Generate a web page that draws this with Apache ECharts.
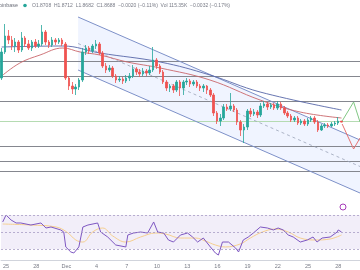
<!DOCTYPE html>
<html><head><meta charset="utf-8">
<script src="https://cdn.jsdelivr.net/npm/echarts@6/dist/echarts.min.js"></script>
<style>html,body{margin:0;padding:0;background:#fff}#c{width:360px;height:270px}</style>
</head><body><div id="c"></div>
<script>
// ---- data ----
const opens = [1.957,2.009,2.041,2.033,2.021,2.029,2.013,2.037,2.025,2.017,
2.029,2.021,2.025,2.049,2.029,2.023,2.033,2.029,2.033,2.025,
1.957,1.941,1.935,1.939,1.953,2.009,2.017,2.011,2.021,2.025,
2.007,1.981,1.973,1.977,1.961,1.953,1.955,1.951,1.957,1.961,
1.975,1.969,1.965,1.971,1.967,1.973,1.993,1.981,1.969,1.949,
1.937,1.941,1.933,1.949,1.937,1.949,1.951,1.945,1.949,1.941,
1.937,1.941,1.933,1.923,1.887,1.871,1.877,1.899,1.895,1.901,
1.893,1.869,1.853,1.859,1.891,1.885,1.889,1.883,1.901,1.905,
1.899,1.903,1.897,1.905,1.897,1.887,1.881,1.873,1.877,1.867,
1.871,1.865,1.873,1.877,1.869,1.853,1.861,1.863,1.861,1.865,
1.867,1.8708];
const closes = [2.009,2.041,2.033,2.021,2.029,2.013,2.037,2.025,2.017,2.029,
2.021,2.025,2.049,2.029,2.023,2.033,2.029,2.033,2.025,1.957,
1.941,1.935,1.939,1.953,2.009,2.017,2.011,2.021,2.025,2.007,
1.981,1.973,1.977,1.961,1.953,1.955,1.951,1.957,1.961,1.975,
1.969,1.965,1.971,1.967,1.973,1.993,1.981,1.969,1.949,1.937,
1.941,1.933,1.949,1.937,1.949,1.951,1.945,1.949,1.941,1.937,
1.941,1.933,1.923,1.887,1.871,1.877,1.899,1.895,1.901,1.893,
1.869,1.853,1.859,1.891,1.885,1.889,1.883,1.901,1.905,1.899,
1.903,1.897,1.905,1.897,1.887,1.881,1.873,1.877,1.867,1.871,
1.865,1.873,1.877,1.869,1.853,1.861,1.863,1.861,1.865,1.867,
1.8708,1.8688];
const highs = [2.017,2.065,2.053,2.041,2.037,2.033,2.049,2.041,2.033,2.033,
2.035,2.033,2.063,2.053,2.033,2.039,2.037,2.037,2.037,2.029,
1.961,1.949,1.945,1.957,2.017,2.023,2.021,2.025,2.033,2.029,
2.011,1.987,1.983,1.981,1.965,1.961,1.959,1.963,1.967,1.983,
1.979,1.975,1.977,1.975,1.981,2.019,1.997,1.985,1.973,1.953,
1.945,1.945,1.953,1.953,1.953,1.957,1.955,1.953,1.953,1.945,
1.945,1.943,1.937,1.927,1.891,1.885,1.905,1.905,1.927,1.905,
1.897,1.873,1.865,1.895,1.897,1.895,1.893,1.907,1.911,1.909,
1.907,1.907,1.911,1.909,1.901,1.891,1.885,1.881,1.881,1.875,
1.875,1.877,1.881,1.881,1.873,1.865,1.867,1.867,1.869,1.871,
1.879,1.8712];
const lows = [1.953,2.005,2.025,2.013,2.009,2.007,2.009,2.019,2.013,2.011,
2.017,2.017,2.021,2.023,2.017,2.019,2.023,2.025,2.021,1.953,
1.933,1.925,1.923,1.933,1.949,2.003,2.005,2.007,2.015,2.003,
1.977,1.967,1.969,1.957,1.947,1.949,1.945,1.947,1.951,1.957,
1.963,1.959,1.961,1.961,1.963,1.969,1.975,1.965,1.945,1.931,
1.929,1.927,1.929,1.921,1.923,1.943,1.939,1.941,1.937,1.931,
1.929,1.925,1.919,1.881,1.865,1.861,1.873,1.891,1.891,1.889,
1.863,1.841,1.827,1.853,1.879,1.881,1.877,1.879,1.897,1.893,
1.895,1.893,1.893,1.893,1.883,1.877,1.869,1.869,1.863,1.863,
1.861,1.861,1.869,1.865,1.849,1.851,1.857,1.857,1.859,1.861,
1.863,1.8682];

const tickLabels = ['25','28','Dec','4','7','10','13','16','19','22','25','28'];
const tickIndex = [1,10,19,28,37,46,55,64,73,82,91,100];

const levels = [1.987,1.957,1.911,1.825,1.795,1.769];
const lastPriceLevel = 1.869;

const maRed = [[0,1.961],[5.4,1.987],[11.4,2.003],[18.2,2.017],[23.3,2.009],[29.2,2.003],[37.3,1.989],[47.1,1.977],[61.9,1.953],[76.8,1.913],[88.7,1.889],[101,1.877]];
const maBlue = [[0,2.019],[18.2,2.021],[29.2,2.007],[47.1,1.989],[61.9,1.963],[76.8,1.929],[101,1.893]];

const channelX = [22.7,106.5];
const channelTop = [2.079,1.833];
const channelMid = [2.026,1.780];
const channelBottom = [1.973,1.727];

const projUp = [[101.2,1.871],[104.6,1.909],[106.5,1.869]];
const projDown = [[101.2,1.865],[104.6,1.815],[106.5,1.837]];

const rsi = [[0,61.8],[1,70],[2.5,64.1],[4,60.6],[5.4,60.6],[8.4,58.2],[11.4,60.6],[12.9,54.7],[14.4,55.9],[17.3,52.4],[18.2,50],[18.8,32.4],[20.3,26.5],[21.2,25.3],[22.7,32.4],[23.9,55.9],[25.4,58.2],[28.3,60.6],[29.2,50],[31.3,44.1],[33.7,34.7],[36.7,32.4],[37.3,46.5],[39,48.8],[41.1,50],[43.2,48.8],[45,61.8],[46.2,50],[48,48.8],[49.4,40.6],[50.9,38.2],[53,46.5],[55.1,48.8],[56.6,44.1],[58.1,38.2],[59.8,42.9],[61.9,32.4],[63.4,25.3],[64.3,22.9],[65.5,38.2],[67.3,38.2],[69.4,31.2],[70.3,26.5],[71.7,40.6],[73.2,44.1],[74.7,48.8],[76.8,55.9],[78.9,54.7],[80.7,52.4],[82.1,54.7],[83.6,52.4],[85.1,46.5],[86.6,44.1],[88.7,38.2],[90.8,40.6],[92.5,44.1],[93.7,38.2],[95.2,42.9],[97.6,44.1],[99.7,50],[100,52.4],[101,50]];
const rsiMa = [[0,59.4],[8.4,58.2],[15.9,55.9],[19.1,50],[21.8,40.6],[23.9,38.2],[26.8,50],[29.8,54.7],[32.8,45.3],[36.7,38.2],[41.1,44.1],[45.6,48.8],[48.6,47.6],[53,42.9],[57.5,42.9],[60.4,39.4],[63.4,34.7],[66.4,32.4],[70.8,35.9],[73.8,42.9],[77.4,50],[81.3,53.5],[85.1,50],[88.7,42.9],[93.1,40.6],[97.6,41.8],[101,46.5]];
const rsiLevels = [70,50,30];

const headerName = 'Coinbase';
const headerItems = ['O1.8708','H1.8712','L1.8682','C1.8688','\u22120.0020 (\u22120.11%)','Vol 115.35K','\u22120.0032 (\u22120.17%)'];

// ---- build ----
const NSLOTS = 107;
const categories = [];
const start = Date.UTC(2021,10,24,16);
for (let i = 0; i < NSLOTS; i++) {
  const d = new Date(start + i * 8 * 3600 * 1000);
  categories.push((d.getUTCMonth()+1) + '-' + d.getUTCDate() + ' ' + d.getUTCHours() + 'h');
}
const candles = opens.map((o, i) => [o, closes[i], lows[i], highs[i]]);

const FONT = '"Liberation Sans", Arial, sans-serif';
const graphic = [
  {type:'text', x:18, y:5.5, style:{text:headerName, fill:'#6a6d78', font:'5.4px ' + FONT, align:'right', verticalAlign:'middle'}},
  {type:'circle', shape:{cx:25, cy:5.5, r:1.8}, style:{fill:'#26a69a'}},
  {type:'text', x:32, y:5.5, style:{text:headerItems.join('  '), fill:'#787b86', font:'5px ' + FONT, align:'left', verticalAlign:'middle'}},
  {type:'circle', shape:{cx:343, cy:207, r:3}, style:{fill:'none', stroke:'#9c27b0', lineWidth:0.9}}
];

const chart = echarts.init(document.getElementById('c'), null, {renderer:'canvas'});
chart.setOption({
  animation:false,
  backgroundColor:'#ffffff',
  grid:[
    {left:0, right:0, top:0, height:200},
    {left:0, right:0, top:206.5, height:51}
  ],
  xAxis:[
    {type:'category', gridIndex:0, data:categories, boundaryGap:true, show:false},
    {type:'value', gridIndex:0, min:-0.5, max:NSLOTS-0.5, show:false},
    {type:'value', gridIndex:1, min:-0.5, max:NSLOTS-0.5, show:false},
    {type:'category', gridIndex:1, data:categories, boundaryGap:true, position:'bottom', offset:3,
     axisLine:{show:true, lineStyle:{color:'#d1d4dc', width:1}}, axisTick:{show:false},
     splitLine:{show:false},
     axisLabel:{show:true, color:'#787b86', fontSize:5.5, fontFamily:'Liberation Sans', margin:2.5,
       interval:(idx) => tickIndex.indexOf(idx) >= 0,
       formatter:(v, idx) => { const k = tickIndex.indexOf(idx); return k >= 0 ? tickLabels[k] : ''; }}}
  ],
  yAxis:[
    {type:'value', gridIndex:0, min:1.713, max:2.113, show:false, scale:true},
    {type:'value', gridIndex:1, min:20, max:80, show:false}
  ],
  graphic: graphic,
  series:[
    {type:'custom', xAxisIndex:1, yAxisIndex:0, z:1, silent:true,
     data:[[channelX[0], channelTop[0], channelBottom[0], channelX[1], channelTop[1], channelBottom[1]]],
     encode:{x:[0,3], y:[1,2,4,5]},
     renderItem:(params, api) => {
       const p1 = api.coord([api.value(0), api.value(1)]);
       const p2 = api.coord([api.value(3), api.value(4)]);
       const p3 = api.coord([api.value(3), api.value(5)]);
       const p4 = api.coord([api.value(0), api.value(2)]);
       return {type:'polygon', shape:{points:[p1,p2,p3,p4]}, style:{fill:'rgba(41,98,255,0.07)'}};
     }},
    {type:'line', xAxisIndex:1, yAxisIndex:0, z:3, symbol:'none', silent:true,
     data:[[channelX[0],channelTop[0]],[channelX[1],channelTop[1]]],
     lineStyle:{color:'#7d90c8', width:1},
     markLine:{silent:true, symbol:'none', label:{show:false}, z:2,
       data: levels.map(v => ({yAxis:v, lineStyle:{color:'#85878f', width:1, type:'solid'}}))
         .concat([{yAxis:lastPriceLevel, lineStyle:{color:'#b5dbb2', width:1, type:'solid'}}])}},
    {type:'line', xAxisIndex:1, yAxisIndex:0, z:3, symbol:'none', silent:true,
     data:[[channelX[0],channelBottom[0]],[channelX[1],channelBottom[1]]],
     lineStyle:{color:'#7d90c8', width:1}},
    {type:'line', xAxisIndex:1, yAxisIndex:0, z:3, symbol:'none', silent:true,
     data:[[channelX[0],channelMid[0]],[channelX[1],channelMid[1]]],
     lineStyle:{color:'#9aa3b8', width:0.8, type:[3,3]}},
    {type:'line', xAxisIndex:1, yAxisIndex:0, z:4, symbol:'none', smooth:0.4, silent:true,
     data:maRed, lineStyle:{color:'#c9676b', width:0.9}},
    {type:'line', xAxisIndex:1, yAxisIndex:0, z:4, symbol:'none', smooth:0.4, silent:true,
     data:maBlue, lineStyle:{color:'#5766a8', width:0.9}},
    {type:'candlestick', xAxisIndex:0, yAxisIndex:0, z:5, data:candles, barWidth:2,
     itemStyle:{color:'#26a69a', color0:'#ef5350', borderColor:'#26a69a', borderColor0:'#ef5350', borderWidth:0.8}},
    {type:'line', xAxisIndex:1, yAxisIndex:0, z:6, symbol:'none', silent:true,
     data:projUp, lineStyle:{color:'#81c784', width:1}},
    {type:'line', xAxisIndex:1, yAxisIndex:0, z:6, symbol:'none', silent:true,
     data:projDown, lineStyle:{color:'#e57373', width:1}},
    {type:'line', xAxisIndex:2, yAxisIndex:1, z:3, symbol:'none', silent:true,
     data:rsiMa, smooth:0.4, lineStyle:{color:'#f6cf8f', width:1}},
    {type:'line', xAxisIndex:2, yAxisIndex:1, z:4, symbol:'none', silent:true,
     data:rsi, lineStyle:{color:'#7e57c2', width:1},
     markArea:{silent:true, itemStyle:{color:'rgba(126,87,194,0.1)'}, data:[[{yAxis:rsiLevels[2]},{yAxis:rsiLevels[0]}]]},
     markLine:{silent:true, symbol:'none', label:{show:false},
       data: rsiLevels.map(v => ({yAxis:v})), lineStyle:{color:'#a79cc4', width:0.8, type:[2,2]}}}
  ]
});
</script>
</body></html>
